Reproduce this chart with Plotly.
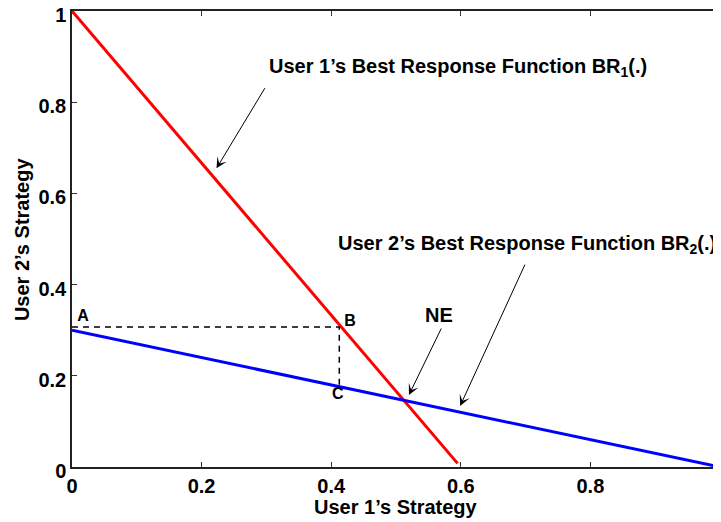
import plotly.graph_objects as go

# best response lines
br1_x = [0.0, 0.595]
br1_y = [1.0, 0.008]
br2_x = [0.0, 1.0]
br2_y = [0.30, 0.0]

# dashed guide A -> B -> C
guide_x = [0.0, 0.4125, 0.4125]
guide_y = [0.307, 0.307, 0.176]

# point labels
pt_text = ["A", "B", "C"]
pt_x = [0.017, 0.429, 0.410]
pt_y = [0.328, 0.318, 0.157]

ticks = [0, 0.2, 0.4, 0.6, 0.8, 1]
tick_text = ["0", "0.2", "0.4", "0.6", "0.8", "1"]

FONT = "Liberation Sans, Arial, sans-serif"

fig = go.Figure()
fig.add_trace(go.Scatter(x=br1_x, y=br1_y, mode="lines",
                         line=dict(color="#ff0000", width=3), showlegend=False))
fig.add_trace(go.Scatter(x=br2_x, y=br2_y, mode="lines",
                         line=dict(color="#0000ff", width=3), showlegend=False))
fig.add_trace(go.Scatter(x=guide_x, y=guide_y, mode="lines",
                         line=dict(color="black", width=1.5, dash="6px,5px"),
                         showlegend=False))
fig.add_trace(go.Scatter(x=pt_x, y=pt_y, mode="text", text=pt_text,
                         textfont=dict(family=FONT, size=16, color="black", weight="bold"),
                         showlegend=False))

# text labels with arrows
labels = [
    dict(text="User 1\u2019s Best Response Function BR<sub>1</sub>(.)", x=0.301, y=0.877,
         tail=(0.299, 0.834), head=(0.223, 0.655)),
    dict(text="User 2\u2019s Best Response Function BR<sub>2</sub>(.)", x=0.408, y=0.487,
         tail=(0.700, 0.447), head=(0.599, 0.134)),
]
for lb in labels:
    fig.add_annotation(x=lb["x"], y=lb["y"], text=lb["text"], showarrow=False,
                       xanchor="left", yanchor="middle",
                       font=dict(family=FONT, size=20, color="black", weight="bold"))
    fig.add_annotation(x=lb["head"][0], y=lb["head"][1], ax=lb["tail"][0], ay=lb["tail"][1],
                       axref="x", ayref="y", text="", showarrow=True,
                       arrowhead=3, arrowsize=1.8, arrowwidth=1, arrowcolor="black")

fig.add_annotation(x=0.567, y=0.333, text="NE", showarrow=False,
                   font=dict(family=FONT, size=20, color="black", weight="bold"))
fig.add_annotation(x=0.52, y=0.158, ax=0.571, ay=0.307, axref="x", ayref="y",
                   text="", showarrow=True, arrowhead=3, arrowsize=1.8,
                   arrowwidth=1, arrowcolor="black")

# axis titles
fig.add_annotation(x=0.5, y=-0.087, xref="paper", yref="paper", text="User 1\u2019s Strategy",
                   showarrow=False, yanchor="middle",
                   font=dict(family=FONT, size=20, color="black", weight="bold"))
fig.add_annotation(x=-0.077, y=0.5, xref="paper", yref="paper", text="User 2\u2019s Strategy",
                   showarrow=False, textangle=-90, xanchor="center",
                   font=dict(family=FONT, size=20, color="black", weight="bold"))

axis_style = dict(range=[0, 1], tickvals=ticks, ticktext=tick_text,
                  ticks="inside", ticklen=5, tickwidth=1, tickcolor="#333",
                  showline=True, linecolor="#222", linewidth=1.5, mirror="ticks",
                  showgrid=False, zeroline=False, automargin=False,
                  ticklabeloverflow="allow",
                  tickfont=dict(family=FONT, size=20, color="black", weight="bold"))

fig.update_xaxes(**axis_style)
fig.update_yaxes(**axis_style)
fig.update_yaxes(ticklabelshift=4)

# page body has an 8px margin, so the figure is sized to fit the window
fig.update_layout(width=713, height=514, template="none",
                  margin=dict(l=64, r=1, t=3, b=55, autoexpand=False),
                  plot_bgcolor="white", paper_bgcolor="white")

fig.write_html("out.html")
